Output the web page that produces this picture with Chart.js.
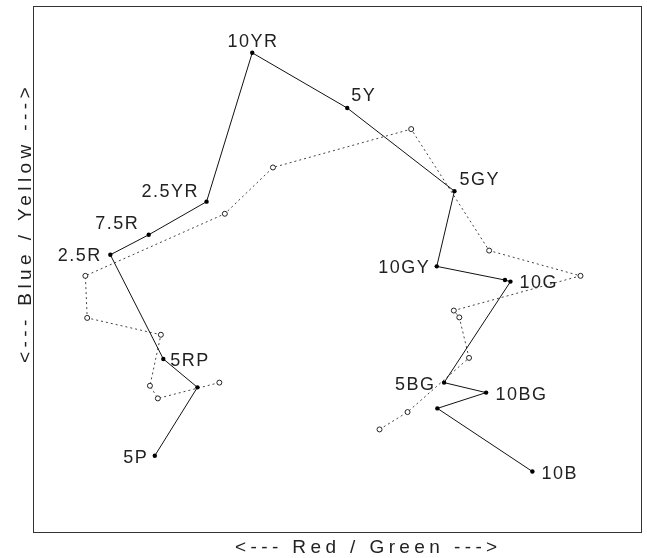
<!DOCTYPE html>
<html>
<head>
<meta charset="utf-8">
<script src="https://cdn.jsdelivr.net/npm/chart.js@4/dist/chart.umd.min.js"></script>
<style>
  html, body { margin: 0; padding: 0; background: #fff; }
  #wrap { width: 647px; height: 558px; }
</style>
</head>
<body>
<div id="wrap"><canvas id="c" width="647" height="558"></canvas></div>
<script>
// ---- data (arbitrary opponent-colour units, 0..100 on both axes) ----
const hueLabels = ["5P", "", "5RP", "2.5R", "7.5R", "2.5YR", "10YR", "5Y", "5GY", "10GY", "", "10G", "5BG", "10BG", "", "10B"];
const solidX = [20.0, 27.0, 21.4, 12.7, 19.0, 28.5, 36.0, 51.6, 69.2, 66.3, 77.5, 78.4, 67.5, 74.4, 66.4, 82.0];
const solidY = [14.5, 27.5, 32.9, 52.7, 56.5, 62.8, 91.1, 80.6, 64.8, 50.5, 47.9, 47.6, 28.4, 26.5, 23.5, 11.5];

const dottedX = [30.6, 20.5, 19.2, 21.0, 8.9, 8.6, 31.5, 39.4, 62.1, 74.9, 89.9, 69.1, 70.0, 71.6, 61.5, 56.9];
const dottedY = [28.4, 25.4, 27.8, 37.5, 40.7, 48.7, 60.5, 69.3, 76.6, 53.5, 48.7, 42.1, 40.8, 33.1, 22.8, 19.5];

const xTitle = "<--- Red / Green --->";
const yTitle = "<--- Blue / Yellow --->";

// ---- label placement (style, not data): [align, dx, baseline dy] ----
const labelPlace = [
  ["right", -8, 7], null, ["left", 7, 7.5], ["right", -10, 6.5], ["right", -11, -6],
  ["right", -9, -5], ["center", 0, -6], ["left", 4, -7], ["left", 5, -6],
  ["right", -8, 6.5], null, ["left", 9, 6.5], ["right", -10, 7], ["left", 9.5, 7.5], null, ["left", 9, 7]
];

const solidPts = solidX.map((x, i) => ({ x, y: solidY[i] }));
const dottedPts = dottedX.map((x, i) => ({ x, y: dottedY[i] }));

const LABEL_FONT = '18px "Liberation Sans", Arial, sans-serif';
const TITLE_FONT = '19px "Liberation Sans", Arial, sans-serif';

const framePlugin = {
  id: 'frame',
  beforeDatasetsDraw(chart) {
    const { ctx, chartArea: a } = chart;
    ctx.save();
    ctx.strokeStyle = '#333';
    ctx.lineWidth = 1;
    ctx.strokeRect(Math.round(a.left) + 0.5, Math.round(a.top) + 0.5,
                   Math.round(a.right - a.left) - 1, Math.round(a.bottom - a.top));
    ctx.restore();
  },
  afterDatasetsDraw(chart) {
    const { ctx, chartArea: a } = chart;
    const meta = chart.getDatasetMeta(1);
    ctx.save();
    ctx.fillStyle = '#222';
    ctx.font = LABEL_FONT;
    ctx.textBaseline = 'alphabetic';
    meta.data.forEach((el, i) => {
      const p = labelPlace[i];
      if (!p || !hueLabels[i]) return;
      ctx.letterSpacing = '1.5px';
      ctx.textAlign = p[0];
      let dx = p[1];
      if (p[0] === 'right') dx += 1.5;
      if (p[0] === 'center') dx += 0.75;
      ctx.fillText(hueLabels[i], el.x + dx, el.y + p[2]);
    });
    // axis titles
    ctx.font = TITLE_FONT;
    ctx.letterSpacing = '4.4px';
    ctx.textAlign = 'left';
    ctx.fillText(xTitle, 235, 552.5);
    ctx.save();
    ctx.translate(31, 363);
    ctx.rotate(-Math.PI / 2);
    ctx.fillText(yTitle, 0, 0);
    ctx.restore();
    ctx.restore();
  }
};

new Chart(document.getElementById('c'), {
  type: 'scatter',
  data: {
    datasets: [
      {
        data: dottedPts,
        showLine: true,
        borderColor: '#444',
        borderWidth: 1,
        borderDash: [2, 3],
        pointRadius: 2.5,
        pointBackgroundColor: '#fff',
        pointBorderColor: '#222',
        pointBorderWidth: 1,
        order: 2
      },
      {
        data: solidPts,
        showLine: true,
        borderColor: '#111',
        borderWidth: 1,
        pointRadius: 2.2,
        pointBackgroundColor: '#000',
        pointBorderColor: '#000',
        pointBorderWidth: 0,
        order: 1
      }
    ]
  },
  options: {
    responsive: false,
    animation: false,
    devicePixelRatio: 1,
    layout: { padding: { left: 33, top: 6, right: 2, bottom: 26 } },
    plugins: { legend: { display: false }, tooltip: { enabled: false } },
    scales: {
      x: { type: 'linear', min: 0, max: 100, display: false },
      y: { type: 'linear', min: 0, max: 100, display: false }
    }
  },
  plugins: [framePlugin]
});
</script>
</body>
</html>
